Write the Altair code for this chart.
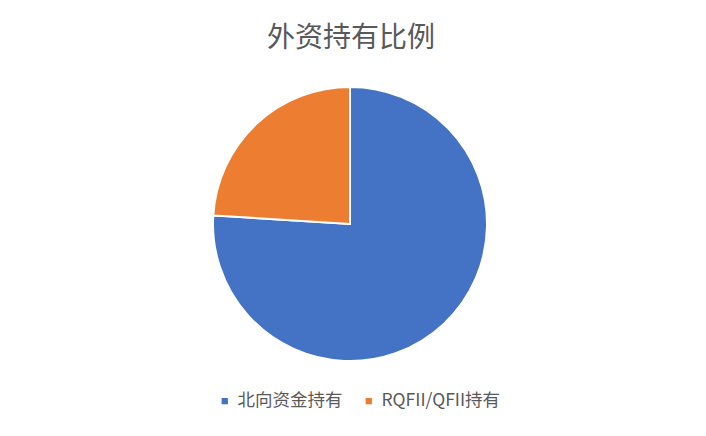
import altair as alt
import pandas as pd

title_text = "外资持有比例"
categories = ["北向资金持有", "RQFII/QFII持有"]
values = [76.0, 24.0]
order = [0, 1]
colors = ["#4472C4", "#ED7D31"]

df = pd.DataFrame({"类别": categories, "比例": values, "序": order})

pie = alt.Chart(df).mark_arc(stroke="white", strokeWidth=2, outerRadius=137).encode(
    theta=alt.Theta("比例:Q", stack=True),
    order=alt.Order("序:Q"),
    color=alt.Color(
        "类别:N",
        sort=categories,
        scale=alt.Scale(domain=categories, range=colors),
        legend=alt.Legend(
            title=None,
            orient="none",
            legendX=208,
            legendY=384,
            direction="horizontal",
            symbolType="square",
            symbolSize=40,
            labelFontSize=17.5,
            labelFont="Noto Sans CJK SC",
            labelColor="#595959",
            columnPadding=17,
            symbolStrokeWidth=0,
        ),
    ),
    x=alt.value(342),
    y=alt.value(216),
)

title = alt.Chart(pd.DataFrame({"t": [title_text]})).mark_text(
    font="Noto Sans CJK SC", fontSize=28, color="#595959", baseline="middle", align="center"
).encode(text="t:N", x=alt.value(343), y=alt.value(31))

chart = alt.layer(pie, title).properties(
    width=690, height=420, autosize=alt.AutoSizeParams(type="none"), padding=0
).configure_view(stroke=None)

chart.save("out.html", embed_options={"renderer": "svg", "actions": False})
